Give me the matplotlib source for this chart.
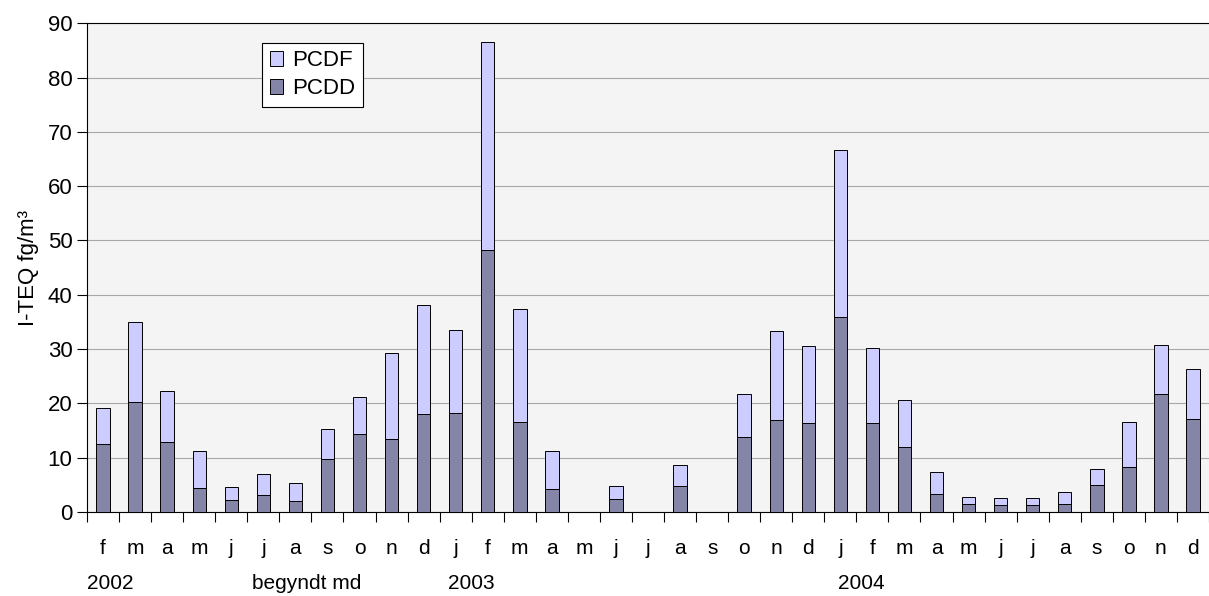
import matplotlib.pyplot as plt
import numpy as np

months = ["f", "m", "a", "m", "j", "j", "a", "s", "o", "n", "d",
          "j", "f", "m", "a", "m", "j", "j", "a", "s", "o", "n", "d",
          "j", "f", "m", "a", "m", "j", "j", "a", "s", "o", "n", "d"]
pcdd = [12.5, 20.3, 12.8, 4.5, 2.2, 3.1, 2.0, 9.7, 14.3, 13.5, 18.0,
        18.3, 48.2, 16.6, 4.2, 0, 2.4, 0, 4.8, 0, 13.8, 16.9, 16.4,
        35.9, 16.4, 12.0, 3.3, 1.4, 1.3, 1.3, 1.4, 5.0, 8.3, 21.8, 17.1]
total = [19.2, 35.0, 22.3, 11.2, 4.6, 6.9, 5.4, 15.2, 21.2, 29.3, 38.2,
         33.5, 86.6, 37.3, 11.2, 0, 4.8, 0, 8.6, 0, 21.8, 33.3, 30.5,
         66.7, 30.2, 20.6, 7.4, 2.8, 2.5, 2.5, 3.7, 8.0, 16.6, 30.8, 26.4]
pcdf = [t - d for t, d in zip(total, pcdd)]
years = [(0.0, "2002"), (0.147, "begyndt md"), (0.322, "2003"), (0.669, "2004")]

fig = plt.figure(figsize=(12.09, 5.96), dpi=100)
ax = fig.add_axes([0.072, 0.141, 0.928, 0.820])
ax.set_facecolor("#f4f4f4")
x = np.arange(len(months))
ax.bar(x, pcdd, width=0.42, color="#8585a8", edgecolor="black", linewidth=0.7, label="PCDD", zorder=3)
ax.bar(x, pcdf, width=0.42, bottom=pcdd, color="#ccccff", edgecolor="black", linewidth=0.7, label="PCDF", zorder=3)

ax.set_xlim(-0.5, len(months) - 0.5)
ax.set_ylim(0, 90)
ax.set_yticks(range(0, 91, 10))
ax.yaxis.grid(True, color="#a8a8a8", linewidth=0.8, zorder=0)
ax.set_xticks(np.arange(-0.5, len(months), 1))
ax.set_xticklabels([])
ax.tick_params(axis="both", length=7)
for i, m in enumerate(months):
    ax.text(i, -0.074, m, transform=ax.get_xaxis_transform(), ha="center", va="center",
            fontsize=15, family="Liberation Sans")
for xf, s in years:
    ax.text(xf, -0.146, s, transform=ax.transAxes, ha="left", va="center", fontsize=15, family="Liberation Sans")
ax.set_ylabel("I-TEQ fg/m³", fontsize=16, family="Liberation Sans", labelpad=6)
for lab in ax.get_yticklabels():
    lab.set_fontsize(16)
    lab.set_family("Liberation Sans")
ax.spines["right"].set_visible(False)

h, l = ax.get_legend_handles_labels()
leg = ax.legend(h[::-1], l[::-1], loc="upper left", bbox_to_anchor=(0.146, 0.983),
                fancybox=False, edgecolor="black", framealpha=1, borderpad=0.35,
                prop={"family": "Liberation Sans", "size": 16}, handlelength=0.6,
                handletextpad=0.4, labelspacing=0.3)
leg.get_frame().set_linewidth(0.8)

fig.savefig("out.png")
